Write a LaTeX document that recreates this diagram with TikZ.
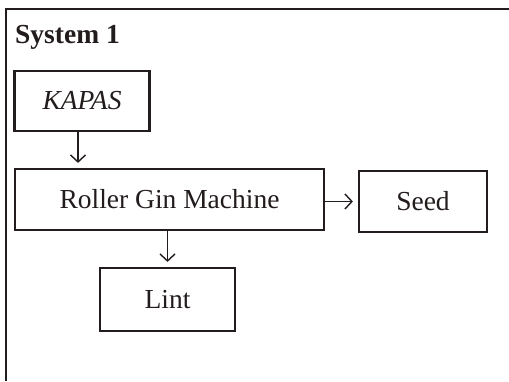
\documentclass[tikz,border=0pt]{standalone}
\usepackage{fontspec}
\setmainfont{Liberation Serif}
\usetikzlibrary{arrows.meta}
\definecolor{ink}{HTML}{231C1C}
\tikzset{
  box/.style={draw=ink, line width=2.2pt, inner sep=0pt, text=ink,
    font=\fontsize{27.5}{32}\selectfont},
  arr/.style={draw=ink, line width=1.4pt, -{Straight Barb[length=7pt,width=15pt,line width=1.4pt]}, shorten >=5pt}
}
\begin{document}
\begin{tikzpicture}[x=1pt,y=-1pt]
\useasboundingbox (0,0) rectangle (509,381);
\fill[white] (0,0) rectangle (509,381);
\draw[ink, line width=2.4pt] (6,381) -- (6,9) -- (509,9);
\node[anchor=base west, text=ink, inner sep=0pt, font=\fontsize{27.5}{32}\selectfont\bfseries] (title) at (15,43) {System 1};
\node[box, minimum width=135pt, minimum height=60pt] (kapas) at (82,101) {\itshape KAPAS};
\node[box, minimum width=309pt, minimum height=61pt] (roller) at (169.5,199.5) {Roller Gin Machine};
\node[box, minimum width=128pt, minimum height=61pt] (seed) at (423,201.5) {Seed};
\node[box, minimum width=135pt, minimum height=63pt] (lint) at (167.5,299.5) {Lint};
\draw[arr] ([xshift=-4pt]kapas.south) -- ([xshift=-4pt]kapas.south |- roller.north);
\draw[arr] (roller.south -| lint.north) -- (lint.north);
\draw[arr] (roller.east |- seed.west) -- (seed.west);
\end{tikzpicture}
\end{document}
